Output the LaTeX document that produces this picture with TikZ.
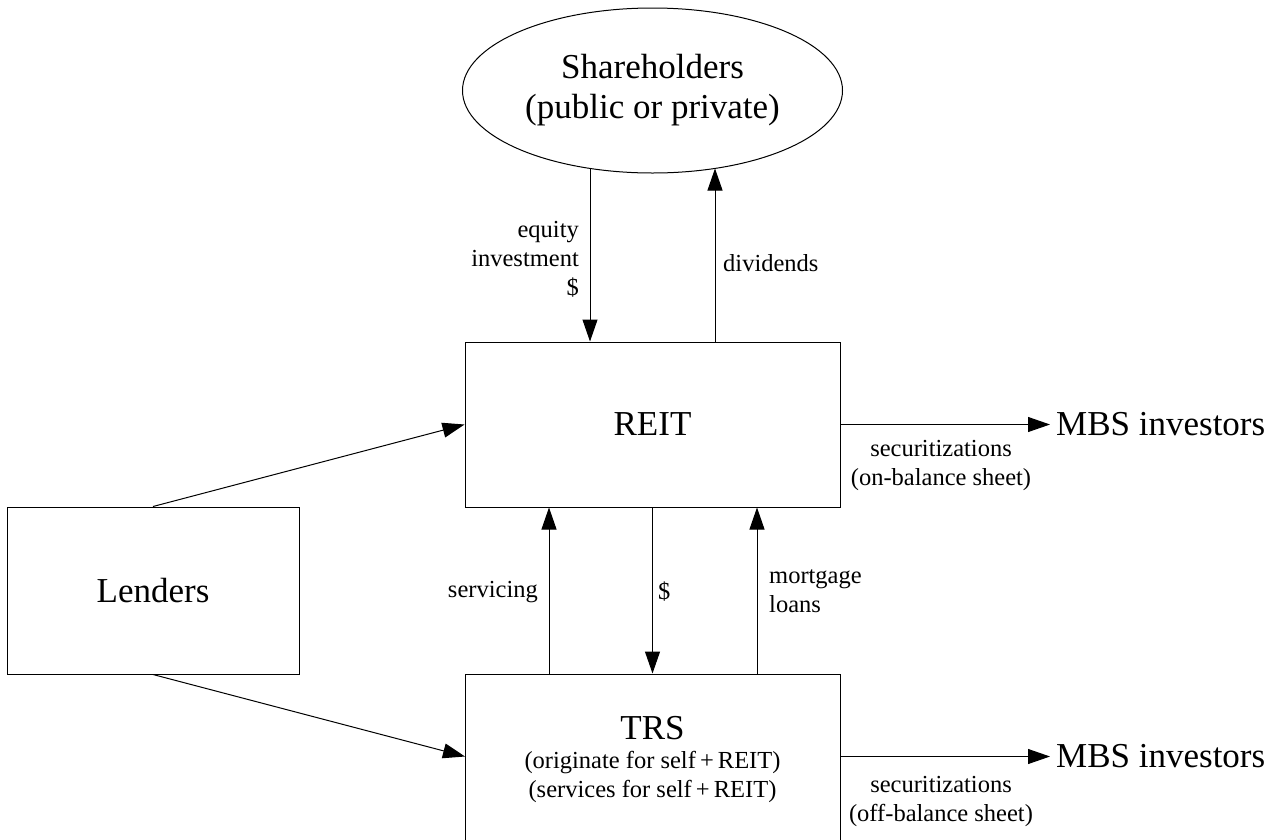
\documentclass[tikz,border=0pt]{standalone}
\usepackage{fontspec}
\setmainfont{Liberation Serif}
\usetikzlibrary{arrows.meta,shapes.geometric,calc}
\begin{document}
\begin{tikzpicture}[x=1pt,y=-1pt,
 box/.style={draw,line width=1pt,minimum width=375pt,minimum height=165pt,inner sep=0pt},
 big/.style={font=\fontsize{35}{40}\selectfont},
 small/.style={font=\fontsize{24.5}{29}\selectfont},
 lbl/.style={small,inner sep=0pt},
 arr/.style={-{Triangle[length=22pt,width=15pt]},line width=1pt}]
\useasboundingbox (0,0) rectangle (1275,839);
\clip (0,0) rectangle (1275,839);
% nodes
\node[draw,ellipse,line width=1pt,minimum width=380pt,minimum height=165pt,inner sep=0pt,align=center,big] (Sh) at (652.5,90.5) {Shareholders\\(public or private)};
\node[box,big] (REIT) at (652.5,424.5) {REIT};
\node[box,big,minimum width=292pt,minimum height=167pt] (L) at (153,590.5) {Lenders};
\node[box,minimum height=168pt] (TRS) at (652.5,758) {};
\node[big,inner sep=0pt] (TRSt) at (652.5,728) {TRS};
\node[lbl,align=center] (TRSs) at (652.5,777) {(originate for self\,+\,REIT)\\(services for self\,+\,REIT)};
\node[big,anchor=west,inner xsep=6pt,inner ysep=0pt] (M1) at (1050,424.5) {MBS investors};
\node[big,anchor=west,inner xsep=6pt,inner ysep=0pt] (M2) at (1050,756.5) {MBS investors};
% coordinates on ellipse border
\coordinate (eqtop) at (590,168.5);
\coordinate (divtop) at (715,168.5);
\coordinate (trsin) at (465,756.5);
% connectors
\draw[arr] (eqtop) -- (eqtop |- REIT.north);
\draw[arr] (divtop |- REIT.north) -- (divtop);
\draw[arr] (L.north) -- (REIT.west);
\draw[arr] (L.south) -- (trsin);
\draw[arr] (TRS.north -| 549,0) -- (REIT.south -| 549,0);
\draw[arr] (REIT.south) -- (TRS.north);
\draw[arr] (TRS.north -| 757,0) -- (REIT.south -| 757,0);
\draw[arr] (REIT.east) -- (M1.west);
\draw[arr] (TRS.east |- M2.west) -- (M2.west);
% labels
\node[lbl,align=right,anchor=east] (leq) at (579,259) {equity\\investment\\\$};
\node[lbl,anchor=west] (ldiv) at (723,263) {dividends};
\node[lbl,anchor=east] (lserv) at (538,592) {servicing};
\node[lbl,anchor=west] (ldol) at (658,592) {\$};
\node[lbl,align=left,anchor=west] (lmort) at (769,591) {mortgage\\loans};
\node[lbl,align=center] (lsec1) at (941,465) {securitizations\\(on-balance sheet)};
\node[lbl,align=center] (lsec2) at (941,801) {securitizations\\(off-balance sheet)};
\end{tikzpicture}
\end{document}
